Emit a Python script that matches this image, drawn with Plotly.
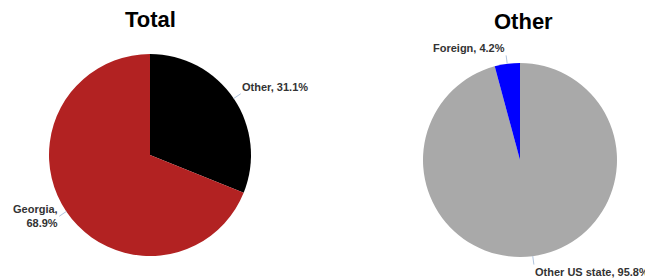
import math
import plotly.graph_objects as go

total_labels = ["Other", "Georgia"]
total_values = [31.1, 68.9]
total_colors = ["#000000", "#B22222"]
total_breaks = [False, True]

other_labels = ["Other US state", "Foreign"]
other_values = [95.8, 4.2]
other_colors = ["#A9A9A9", "#0000FF"]
other_breaks = [False, False]

OFF = 8  # page body margin
W, H = 653 - OFF, 278 - OFF

def px2paper(px, py):
    return (px - OFF) / W, 1 - (py - OFF) / H

def dom(cx, cy, r):
    cx -= OFF
    cy -= OFF
    return dict(x=[(cx - r) / W, (cx + r) / W], y=[(H - cy - r) / H, (H - cy + r) / H])

fig = go.Figure()

def add_pie(labels, values, colors, breaks, cx, cy, r):
    fig.add_trace(go.Pie(
        labels=labels, values=values, sort=False, direction="clockwise", rotation=0,
        marker=dict(colors=colors, line=dict(width=0)),
        textinfo="none", domain=dom(cx, cy, r), showlegend=False, hoverinfo="label+percent",
    ))
    tot = sum(values)
    cum = 0.0
    for lab, v, br in zip(labels, values, breaks):
        mid = (cum + v / 2) / tot * 2 * math.pi
        cum += v
        s, c = math.sin(mid), math.cos(mid)
        ex, ey = cx + r * s, cy - r * c
        L = 8.5
        ax, ay = L * s, -L * c
        xanchor = "left" if s > 0 else "right"
        if c > 0.3:
            yanchor = "bottom"
        elif c < -0.9:
            yanchor = "top"
        else:
            yanchor = "middle"
        pct = f"{v / tot * 100:.1f}%"
        txt = f"<b>{lab},<br>{pct}</b>" if br else f"<b>{lab}, {pct}</b>"
        x, y = px2paper(ex, ey)
        fig.add_annotation(
            x=x, y=y, xref="paper", yref="paper", text=txt, showarrow=True,
            ax=ax, ay=ay, axref="pixel", ayref="pixel", arrowhead=0, arrowwidth=1,
            arrowcolor="#B0C4DE", standoff=0, startstandoff=0,
            xanchor=xanchor, yanchor=yanchor, align="right" if s < 0 else "left",
            font=dict(family="Liberation Sans", size=11, color="#333333"), borderpad=0,
        )

add_pie(total_labels, total_values, total_colors, total_breaks, 150, 155, 101)
add_pie(other_labels, other_values, other_colors, other_breaks, 520, 160, 97)

for title, tx, ty in [("Total", 150, 20), ("Other", 523, 21)]:
    x, y = px2paper(tx, ty)
    fig.add_annotation(text=f"<b>{title}</b>", x=x, y=y, xref="paper", yref="paper",
                       yanchor="middle", xanchor="center", showarrow=False,
                       font=dict(family="Liberation Sans", size=22, color="#000000"))

fig.update_layout(width=W, height=H, margin=dict(l=0, r=0, t=0, b=0),
                  paper_bgcolor="white", plot_bgcolor="white")
fig.write_html("out.html")
